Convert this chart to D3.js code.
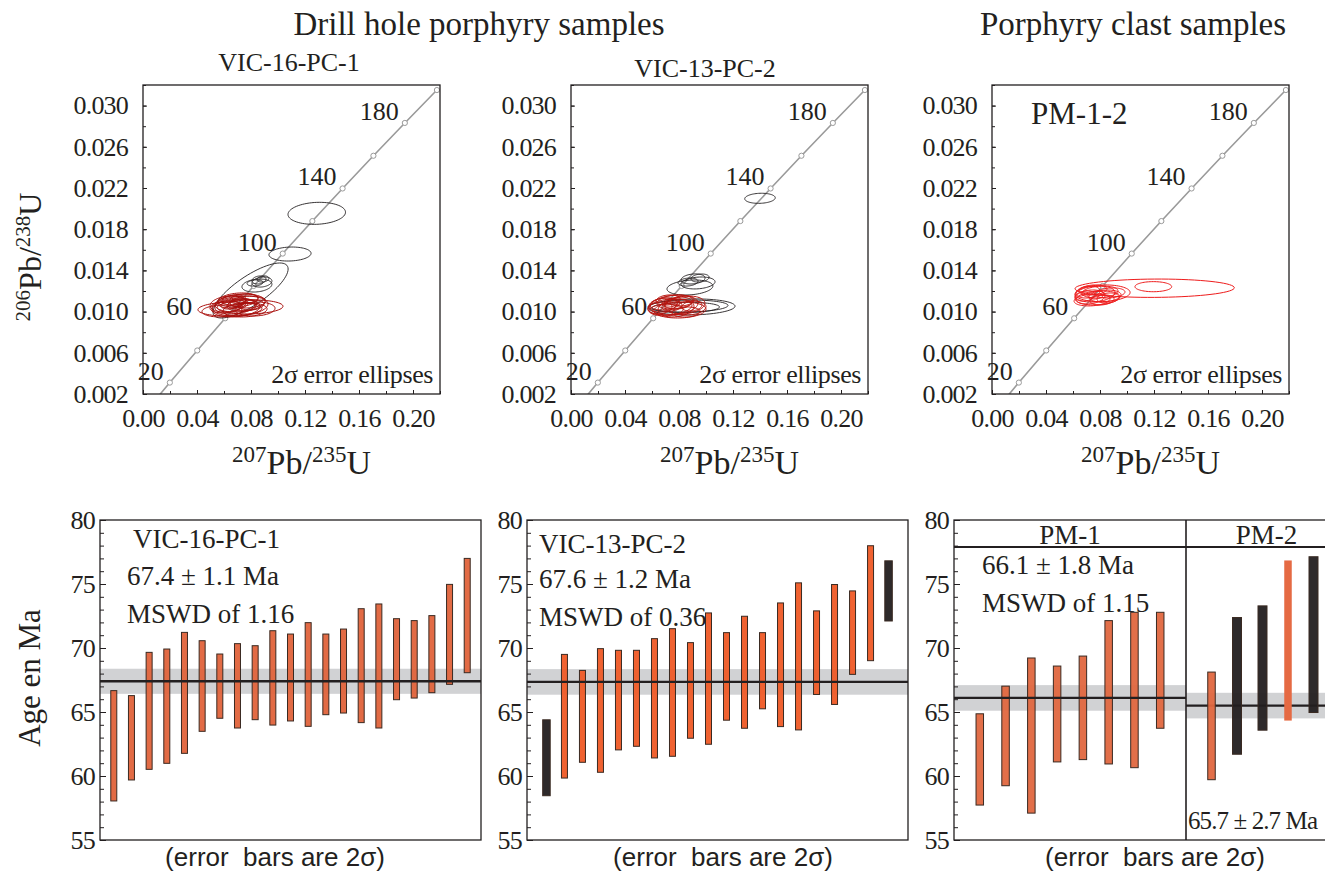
<!DOCTYPE html>
<html>
<head>
<meta charset="utf-8">
<style>
  body { margin: 0; background: #fff; }
  svg { display: block; font-family: 'Liberation Serif', 'Times New Roman', serif; }
  .tick line { stroke: #231f20; }
  .tick text { font-size: 26px; fill: #231f20; font-family: 'Liberation Serif', serif; letter-spacing: -0.8px; }
  .domain { display: none; }
  .frame { fill: none; stroke: #231f20; stroke-width: 1.3; }
  .txt { fill: #231f20; }
  .sans { font-family: 'Liberation Sans', Arial, sans-serif; white-space: pre; }
</style>
</head>
<body>
<svg width="1325" height="876"></svg>
<script src="https://d3js.org/d3.v7.min.js"></script>
<script>
// ---- concordia (ages in Ma, ratios) ----
let concAges = [0, 20, 40, 60, 80, 100, 120, 140, 160, 180, 200];
let conc207 = [0, 0.01989, 0.04018, 0.06087, 0.08198, 0.10350, 0.12545, 0.14784, 0.17068, 0.19396, 0.21771];
let conc206 = [0, 0.003107, 0.006224, 0.009351, 0.012487, 0.015633, 0.018789, 0.021955, 0.025131, 0.028316, 0.031511];
let concLabels = [20, 60, 100, 140, 180];

let ratioYTicks = [0.002, 0.006, 0.010, 0.014, 0.018, 0.022, 0.026, 0.030];
let ratioXTicks = [0.00, 0.04, 0.08, 0.12, 0.16, 0.20];

// ---- ellipses: [207/235, 206/238, half width, half height, rho] ----
let vic16Red = [
  [0.0644, 0.01025, 0.0237, 0.00068, 0.1], [0.0793, 0.01045, 0.0244, 0.00068, 0.1],
  [0.0719, 0.01083, 0.0185, 0.00087, 0.2], [0.0681, 0.01054, 0.0148, 0.00078, 0.2],
  [0.0756, 0.01016, 0.0163, 0.00068, 0.15], [0.0630, 0.01074, 0.0133, 0.00078, 0.2],
  [0.0704, 0.01113, 0.0148, 0.00068, 0.2], [0.0733, 0.01064, 0.0111, 0.00058, 0.2],
  [0.0659, 0.01093, 0.0104, 0.00058, 0.2], [0.0778, 0.01093, 0.0133, 0.00058, 0.15],
  [0.0689, 0.01035, 0.0178, 0.00087, 0.2], [0.0615, 0.01045, 0.0119, 0.00058, 0.2],
  [0.0748, 0.01122, 0.0104, 0.00049, 0.2], [0.0704, 0.01074, 0.0074, 0.00049, 0.2],
  [0.0807, 0.01064, 0.0089, 0.00049, 0.2], [0.0674, 0.01113, 0.0089, 0.00049, 0.2],
  [0.0719, 0.01054, 0.0207, 0.00097, 0.2], [0.0585, 0.01006, 0.0148, 0.00058, 0.1],
  [0.0763, 0.01045, 0.0074, 0.00039, 0.2], [0.0644, 0.01064, 0.0067, 0.00039, 0.2],
  [0.0830, 0.01025, 0.0148, 0.00068, 0.1], [0.0696, 0.01083, 0.0052, 0.00029, 0.2]
];
let vic16Black = [
  [0.0797, 0.01205, 0.0278, 0.00267, 0.78],
  [0.1287, 0.01954, 0.0213, 0.00107, 0.1],
  [0.1089, 0.01559, 0.0156, 0.00068, 0.1],
  [0.0844, 0.01253, 0.0111, 0.00063, 0.2], [0.0881, 0.01287, 0.0074, 0.00049, 0.2],
  [0.0859, 0.01307, 0.0052, 0.00039, 0.2], [0.0889, 0.01317, 0.0044, 0.00030, 0.2],
  [0.0830, 0.01278, 0.0059, 0.00030, 0.2]
];
let vic13Red = [
  [0.0733, 0.01045, 0.0163, 0.00078, 0.2], [0.0807, 0.01016, 0.0193, 0.00078, 0.1],
  [0.0696, 0.01074, 0.0111, 0.00058, 0.2], [0.0770, 0.01093, 0.0133, 0.00068, 0.2],
  [0.0844, 0.01064, 0.0148, 0.00087, 0.2], [0.0659, 0.01035, 0.0089, 0.00058, 0.2],
  [0.0748, 0.01054, 0.0074, 0.00049, 0.2], [0.0793, 0.01083, 0.0104, 0.00058, 0.2],
  [0.0719, 0.01113, 0.0089, 0.00049, 0.2], [0.0881, 0.01035, 0.0119, 0.00068, 0.2],
  [0.0681, 0.01064, 0.0104, 0.00068, 0.2], [0.0778, 0.01035, 0.0133, 0.00087, 0.2],
  [0.0822, 0.01103, 0.0089, 0.00049, 0.2], [0.0733, 0.01083, 0.0059, 0.00039, 0.2],
  [0.0896, 0.01054, 0.0074, 0.00049, 0.2], [0.0704, 0.01016, 0.0126, 0.00058, 0.1],
  [0.0763, 0.01064, 0.0178, 0.00097, 0.2], [0.0852, 0.00996, 0.0104, 0.00049, 0.1]
];
let vic13Black = [
  [0.1400, 0.02100, 0.0113, 0.00049, 0.1],
  [0.0893, 0.01045, 0.0322, 0.00078, 0.1], [0.0867, 0.01054, 0.0296, 0.00058, 0.1],
  [0.0850, 0.01040, 0.0250, 0.00050, 0.1],
  [0.0881, 0.01234, 0.0170, 0.00073, 0.2], [0.0941, 0.01278, 0.0126, 0.00058, 0.2],
  [0.0904, 0.01317, 0.0089, 0.00049, 0.2], [0.0956, 0.01326, 0.0067, 0.00039, 0.2],
  [0.0867, 0.01287, 0.0074, 0.00039, 0.2]
];
let pm12Red = [
  [0.1205, 0.01227, 0.0590, 0.00089, 0.05], [0.1195, 0.01242, 0.0136, 0.00049, 0.0],
  [0.0819, 0.01178, 0.0204, 0.00081, 0.1],
  [0.0763, 0.01171, 0.0148, 0.00078, 0.2], [0.0726, 0.01142, 0.0111, 0.00068, 0.2],
  [0.0800, 0.01190, 0.0133, 0.00058, 0.2], [0.0785, 0.01132, 0.0163, 0.00068, 0.2],
  [0.0711, 0.01190, 0.0089, 0.00058, 0.2], [0.0837, 0.01151, 0.0119, 0.00058, 0.2],
  [0.0748, 0.01210, 0.0104, 0.00049, 0.2], [0.0815, 0.01113, 0.0089, 0.00049, 0.2],
  [0.0689, 0.01151, 0.0074, 0.00049, 0.2], [0.0874, 0.01181, 0.0111, 0.00049, 0.2],
  [0.0770, 0.01161, 0.0059, 0.00039, 0.2], [0.0741, 0.01113, 0.0133, 0.00058, 0.2],
  [0.0859, 0.01132, 0.0081, 0.00049, 0.2]
];

// ---- weighted mean ages (Ma): bar low / high, type o=orange k=black l=light ----
let ageTicks = [55, 60, 65, 70, 75, 80];
let vic16Lo = [58.05, 59.69, 60.52, 60.99, 61.77, 63.49, 64.51, 63.75, 64.40, 63.98, 64.30, 63.88, 64.79, 64.92, 64.17, 63.75, 65.96, 66.09, 66.51, 67.16, 68.07];
let vic16Hi = [66.67, 66.28, 69.66, 69.92, 71.22, 70.57, 69.53, 70.34, 70.18, 71.35, 71.09, 71.98, 71.09, 71.48, 73.07, 73.44, 72.29, 72.14, 72.53, 74.97, 77.00];
let vic13Lo = [58.46, 59.84, 61.07, 60.29, 62.04, 62.32, 61.41, 61.54, 62.95, 62.48, 64.36, 63.73, 65.25, 63.86, 63.60, 66.37, 65.59, 67.94, 69.01, 72.11];
let vic13Hi = [64.39, 69.50, 68.25, 69.95, 69.82, 69.82, 70.73, 71.51, 70.42, 72.74, 71.20, 72.48, 71.20, 73.52, 75.09, 72.90, 74.96, 74.46, 77.99, 76.81];
let vic13Type = ["k", "o", "o", "o", "o", "o", "o", "o", "o", "o", "o", "o", "o", "o", "o", "o", "o", "o", "o", "k"];
let pm1Lo = [57.73, 59.24, 57.10, 61.10, 61.28, 60.94, 60.65, 63.73];
let pm1Hi = [64.86, 67.02, 69.22, 68.59, 69.37, 72.14, 72.79, 72.79];
let pm2Lo = [59.71, 61.70, 63.58, 64.33, 64.96];
let pm2Hi = [68.12, 72.38, 73.29, 76.84, 77.13];
let pm2Type = ["o", "k", "k", "l", "k"];
// mean line and shaded band half width
let meanAge = [67.4, 67.35, 66.1, 65.5];
let bandHalf = [0.98, 1.0, 1.0, 1.0];

let svg = d3.select("svg");

// ================= concordia panels =================
let ratioTop = 85, ratioBottom = 394, ratioW = 297;

function concordiaPanel(left, red, black, redColor, shift60) {
  let x = d3.scaleLinear().domain([0, 0.22]).range([left, left + ratioW]);
  let y = d3.scaleLinear().domain([0.002, 0.032]).range([ratioBottom, ratioTop]);
  let g = svg.append("g");
  let id = "clip" + left;

  g.append("clipPath").attr("id", id).append("rect")
    .attr("x", left).attr("y", ratioTop).attr("width", ratioW).attr("height", ratioBottom - ratioTop);

  // minor ticks
  g.append("g").attr("transform", `translate(${left},0)`)
    .call(d3.axisLeft(y).tickValues(d3.range(0.002, 0.0321, 0.002)).tickSize(-3).tickFormat(""));
  g.append("g").attr("transform", `translate(0,${ratioBottom})`)
    .call(d3.axisBottom(x).tickValues(d3.range(0, 0.221, 0.02)).tickSize(-3).tickFormat(""));
  // labelled ticks
  g.append("g").attr("transform", `translate(${left},0)`)
    .call(d3.axisLeft(y).tickValues(ratioYTicks).tickSize(-4).tickPadding(15).tickFormat(d3.format(".3f")));
  g.append("g").attr("transform", `translate(0,${ratioBottom})`)
    .call(d3.axisBottom(x).tickValues(ratioXTicks).tickSize(-4).tickPadding(15).tickFormat(d3.format(".2f")));

  let pts = concAges.map((a, i) => [conc207[i], conc206[i]]);
  let inner = g.append("g").attr("clip-path", `url(#${id})`);
  inner.append("path")
    .attr("d", d3.line().x(d => x(d[0])).y(d => y(d[1])).curve(d3.curveMonotoneX)(pts))
    .attr("fill", "none").attr("stroke", "#9a9a9a").attr("stroke-width", 1.6);
  inner.selectAll("circle").data(pts.slice(1)).join("circle")
    .attr("cx", d => x(d[0])).attr("cy", d => y(d[1])).attr("r", 2.6)
    .attr("fill", "#fff").attr("stroke", "#9a9a9a").attr("stroke-width", 1);

  g.selectAll("text.age").data(concLabels).join("text")
    .attr("class", "age txt")
    .attr("x", a => x(conc207[concAges.indexOf(a)]) - 6 + (a === 60 ? shift60 : 0))
    .attr("y", a => y(conc206[concAges.indexOf(a)]) - 3)
    .attr("text-anchor", "end").attr("font-size", 26)
    .text(a => a);

  function ell(e) {
    let pts = d3.range(0, 360, 5).map(deg => {
      let t = deg * Math.PI / 180;
      return [x(e[0] + e[2] * Math.cos(t)),
              y(e[1] + e[3] * (e[4] * Math.cos(t) + Math.sqrt(1 - e[4] * e[4]) * Math.sin(t)))];
    });
    return d3.line().curve(d3.curveLinearClosed)(pts);
  }
  inner.selectAll("path.bk").data(black).join("path").attr("class", "bk")
    .attr("d", ell).attr("fill", "none").attr("stroke", "#231f20").attr("stroke-width", 0.9);
  inner.selectAll("path.rd").data(red).join("path").attr("class", "rd")
    .attr("d", ell).attr("fill", "none").attr("stroke", redColor).attr("stroke-width", 1);

  g.append("text").attr("class", "txt")
    .attr("x", left + ratioW - 7).attr("y", ratioBottom - 11)
    .attr("text-anchor", "end").attr("font-size", 26).attr("letter-spacing", -0.4)
    .text("2σ error ellipses");

  g.append("rect").attr("class", "frame")
    .attr("x", left).attr("y", ratioTop).attr("width", ratioW).attr("height", ratioBottom - ratioTop)
    .attr("stroke-width", 1);

  // x axis title
  let xt = g.append("text").attr("class", "txt")
    .attr("x", left + ratioW / 2 + 10).attr("y", 474)
    .attr("text-anchor", "middle").attr("font-size", 34);
  xt.append("tspan").attr("font-size", 23).attr("dy", -12).text("207");
  xt.append("tspan").attr("dy", 12).text("Pb/");
  xt.append("tspan").attr("font-size", 23).attr("dy", -12).text("235");
  xt.append("tspan").attr("dy", 12).text("U");
}

concordiaPanel(143, vic16Red, vic16Black, "#a90f0c", -27);
concordiaPanel(571, vic13Red, vic13Black, "#b8150f", 0);
concordiaPanel(992, pm12Red, [], "#ee1c1c", 0);

// y axis title for the ratio plots
let yt = svg.append("text").attr("class", "txt")
  .attr("transform", "translate(41,257) rotate(-90)")
  .attr("text-anchor", "middle").attr("font-size", 32);
yt.append("tspan").attr("font-size", 21).attr("dy", -11).text("206");
yt.append("tspan").attr("dy", 11).text("Pb/");
yt.append("tspan").attr("font-size", 21).attr("dy", -11).text("238");
yt.append("tspan").attr("dy", 11).text("U");

// titles
svg.append("text").attr("class", "txt").attr("x", 479).attr("y", 35)
  .attr("text-anchor", "middle").attr("font-size", 33).text("Drill hole porphyry samples");
svg.append("text").attr("class", "txt").attr("x", 1133).attr("y", 35)
  .attr("text-anchor", "middle").attr("font-size", 33).text("Porphyry clast samples");
svg.append("text").attr("class", "txt").attr("x", 289).attr("y", 71)
  .attr("text-anchor", "middle").attr("font-size", 26).text("VIC-16-PC-1");
svg.append("text").attr("class", "txt").attr("x", 705).attr("y", 77)
  .attr("text-anchor", "middle").attr("font-size", 26).text("VIC-13-PC-2");
svg.append("text").attr("class", "txt").attr("x", 1031).attr("y", 124)
  .attr("font-size", 31).text("PM-1-2");

// ================= weighted mean panels =================
let ageTop = 520, ageBottom = 840;
let yAge = d3.scaleLinear().domain([55, 80]).range([ageBottom, ageTop]);
let barColors = { o: "#e0633b", k: "#231f20", l: "#e56a43" };

function ageAxis(left) {
  svg.append("g").attr("transform", `translate(${left},0)`)
    .call(d3.axisLeft(yAge).tickValues(d3.range(55, 81, 1)).tickSize(-4).tickFormat(""));
  svg.append("g").attr("transform", `translate(${left},0)`)
    .call(d3.axisLeft(yAge).tickValues(ageTicks).tickSize(-6).tickPadding(5).tickFormat(d3.format("d")));
}

function band(x0, x1, mean, half) {
  svg.append("rect").attr("x", x0).attr("width", x1 - x0)
    .attr("y", yAge(mean + half)).attr("height", yAge(mean - half) - yAge(mean + half))
    .attr("fill", "#d1d2d4");
}
function meanLine(x0, x1, mean) {
  svg.append("line").attr("x1", x0).attr("x2", x1)
    .attr("y1", yAge(mean)).attr("y2", yAge(mean))
    .attr("stroke", "#231f20").attr("stroke-width", 2.4);
}
function bars(lo, hi, types, x, w, orange) {
  let data = lo.map((d, i) => ({ i: i, lo: d, hi: hi[i], t: types ? types[i] : "o" }));
  svg.append("g").selectAll("rect").data(data).join("rect")
    .attr("x", d => x(d.i) - (d.t === "k" ? w + 1.5 : w) / 2)
    .attr("width", d => d.t === "k" ? w + 1.5 : w)
    .attr("y", d => yAge(d.hi))
    .attr("height", d => yAge(d.lo) - yAge(d.hi))
    .attr("fill", d => d.t === "o" ? orange : barColors[d.t])
    .attr("fill-opacity", d => d.t === "l" ? 1 : 0.95)
    .attr("stroke", d => d.t === "l" ? "none" : "#3a2a22")
    .attr("stroke-width", 1);
}
function ageText(x, y, str, size, anchor) {
  return svg.append("text").attr("class", "txt").attr("x", x).attr("y", y)
    .attr("font-size", size).attr("text-anchor", anchor || "start").text(str);
}
function footer(cx) {
  svg.append("text").attr("class", "txt sans").attr("x", cx).attr("y", 866)
    .attr("text-anchor", "middle").attr("font-size", 26).text("(error  bars are 2σ)");
}

// panel 1
let x1 = d3.scalePoint().domain(d3.range(vic16Lo.length)).range([100, 481]).padding(0.78);
band(100, 481, meanAge[0], bandHalf[0]);
bars(vic16Lo, vic16Hi, null, x1, 6, "#e0633b");
meanLine(100, 481, meanAge[0]);
ageAxis(100);
svg.append("rect").attr("class", "frame").attr("x", 100).attr("y", ageTop).attr("width", 381).attr("height", ageBottom - ageTop);
ageText(133, 548, "VIC-16-PC-1", 27);
ageText(127, 585, "67.4 ± 1.1 Ma", 27);
ageText(127, 623, "MSWD of 1.16", 27);
footer(275);

// panel 2
let x2 = d3.scalePoint().domain(d3.range(vic13Lo.length)).range([527, 908]).padding(1.08);
band(527, 908, meanAge[1], bandHalf[1]);
bars(vic13Lo, vic13Hi, vic13Type, x2, 6, "#ef5a26");
meanLine(527, 908, meanAge[1]);
ageAxis(527);
svg.append("rect").attr("class", "frame").attr("x", 527).attr("y", ageTop).attr("width", 381).attr("height", ageBottom - ageTop);
ageText(539, 553, "VIC-13-PC-2", 27);
ageText(539, 588, "67.6 ± 1.2 Ma", 27);
ageText(539, 626, "MSWD of 0.36", 27);
footer(723);

// panel 3 (PM-1 | PM-2)
let divX = 1186, p3L = 954, p3R = 1339;
let x3a = d3.scalePoint().domain(d3.range(pm1Lo.length)).range([p3L, divX]).padding(1);
let x3b = d3.scalePoint().domain(d3.range(pm2Lo.length)).range([divX, p3R]).padding(1);
band(p3L, divX, meanAge[2], bandHalf[2]);
band(divX, p3R, meanAge[3], bandHalf[3]);
bars(pm1Lo, pm1Hi, null, x3a, 7.5, "#e0673f");
meanLine(p3L, divX, meanAge[2]);
meanLine(divX, p3R, meanAge[3]);
bars(pm2Lo, pm2Hi, pm2Type, x3b, 7.5, "#e0673f");
ageAxis(p3L);
svg.append("rect").attr("class", "frame").attr("x", p3L).attr("y", ageTop).attr("width", p3R - p3L).attr("height", ageBottom - ageTop);
svg.append("line").attr("x1", p3L).attr("x2", p3R).attr("y1", 547).attr("y2", 547)
  .attr("stroke", "#231f20").attr("stroke-width", 2.2);
svg.append("line").attr("x1", divX).attr("x2", divX).attr("y1", ageTop).attr("y2", ageBottom)
  .attr("stroke", "#231f20").attr("stroke-width", 1.6);
ageText((p3L + divX) / 2, 544, "PM-1", 27, "middle");
ageText((divX + p3R) / 2 + 4, 544, "PM-2", 27, "middle");
ageText(982, 574, "66.1 ± 1.8 Ma", 27);
ageText(982, 612, "MSWD of 1.15", 27);
ageText(1188, 829, "65.7 ± 2.7 Ma", 25).attr("letter-spacing", -0.9);
footer(1155);

// y axis title for age plots
svg.append("text").attr("class", "txt")
  .attr("transform", "translate(40,678) rotate(-90)")
  .attr("text-anchor", "middle").attr("font-size", 31).text("Age en Ma");
</script>
</body>
</html>
